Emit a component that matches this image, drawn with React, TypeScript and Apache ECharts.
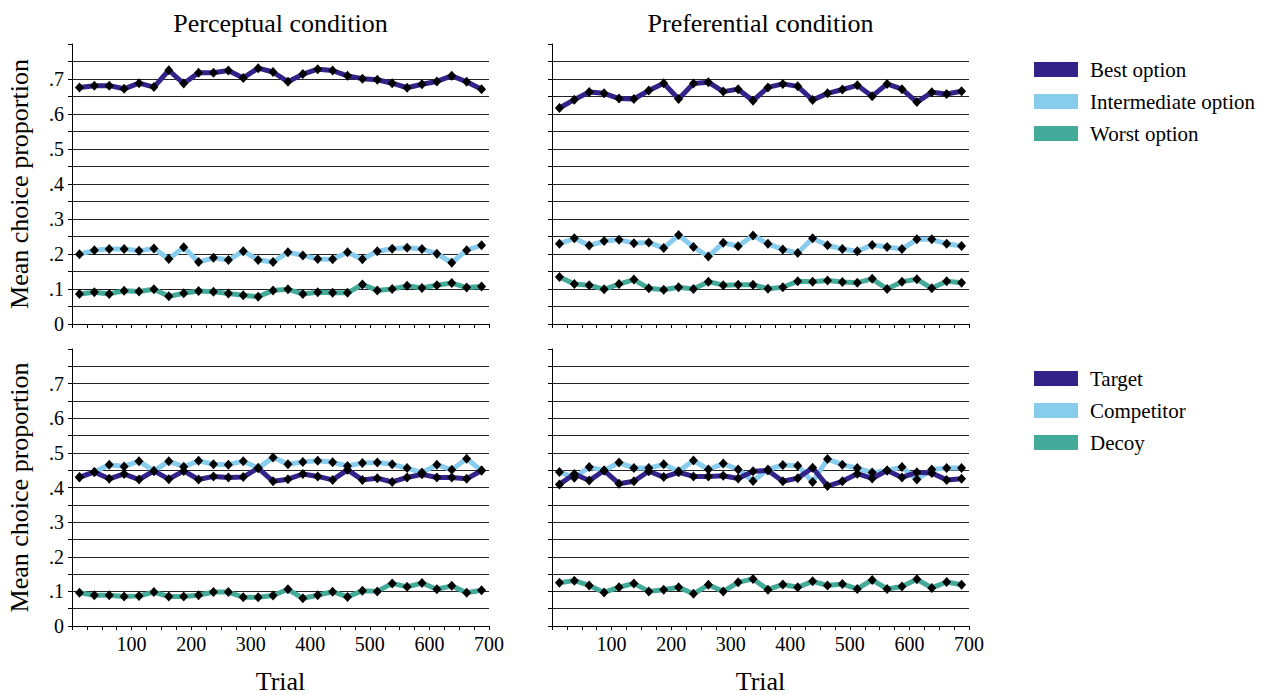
import React, { useEffect, useRef } from 'react';
import * as echarts from 'echarts';

// Trial blocks (end trial of each 25-trial block)
const trialBlocks = ['25', '50', '75', '100', '125', '150', '175', '200', '225', '250', '275', '300', '325', '350',
  '375', '400', '425', '450', '475', '500', '525', '550', '575', '600', '625', '650', '675', '700'];

const panelTitles = ['Perceptual condition', 'Preferential condition'];
const legendTop = ['Best option', 'Intermediate option', 'Worst option'];
const legendBottom = ['Target', 'Competitor', 'Decoy'];

const perceptualBest = [.676, .681, .681, .672, .688, .677, .725, .687, .718, .718, .724, .703, .731, .720, .692, .714, .728, .724, .709, .701, .698, .688, .675, .685, .693, .709, .692, .671];
const perceptualIntermediate = [.199, .211, .214, .214, .209, .216, .186, .219, .177, .189, .183, .208, .183, .177, .205, .196, .186, .185, .205, .185, .208, .215, .218, .214, .201, .175, .211, .225];
const perceptualWorst = [.086, .091, .086, .095, .093, .099, .079, .088, .094, .092, .087, .082, .078, .096, .099, .086, .091, .089, .089, .113, .096, .100, .109, .103, .111, .117, .104, .107];

const preferentialBest = [.617, .641, .663, .659, .644, .643, .667, .688, .643, .687, .691, .664, .671, .638, .676, .686, .679, .640, .659, .670, .682, .651, .686, .671, .634, .662, .657, .665];
const preferentialIntermediate = [.229, .245, .224, .237, .241, .231, .233, .217, .254, .220, .193, .232, .222, .253, .229, .213, .203, .245, .225, .214, .208, .226, .220, .214, .242, .242, .229, .223];
const preferentialWorst = [.134, .114, .111, .099, .114, .127, .102, .098, .105, .100, .121, .111, .112, .112, .101, .105, .122, .121, .124, .120, .118, .129, .100, .121, .128, .102, .122, .118];

const perceptualTarget = [.429, .445, .425, .439, .423, .448, .424, .448, .423, .432, .429, .430, .456, .418, .424, .439, .432, .422, .451, .422, .427, .416, .429, .438, .429, .429, .425, .449];
const perceptualCompetitor = [.430, .445, .466, .461, .476, .448, .476, .460, .477, .467, .466, .476, .456, .487, .467, .474, .477, .473, .462, .471, .472, .467, .456, .443, .466, .451, .483, .449];
const perceptualDecoy = [.096, .089, .089, .085, .087, .098, .085, .085, .089, .098, .098, .083, .083, .088, .106, .080, .089, .099, .084, .102, .100, .123, .113, .124, .106, .116, .096, .103];

const preferentialTarget = [.409, .439, .420, .449, .411, .418, .447, .430, .444, .432, .432, .434, .426, .447, .449, .418, .427, .457, .404, .418, .440, .426, .449, .429, .444, .442, .422, .425];
const preferentialCompetitor = [.445, .428, .459, .449, .472, .456, .456, .467, .447, .478, .452, .469, .452, .419, .452, .465, .463, .416, .482, .466, .456, .443, .449, .459, .423, .452, .456, .456];
const preferentialDecoy = [.125, .131, .117, .097, .112, .123, .100, .105, .112, .093, .119, .100, .126, .136, .105, .120, .112, .129, .117, .121, .107, .133, .107, .114, .135, .110, .127, .119];

const FONT = "'Liberation Serif', 'Times New Roman', Times, serif";
const C1 = '#332288';
const C2 = '#88CCEE';
const C3 = '#44AA99';

export default function App() {
  const ref = useRef<HTMLDivElement>(null);

  useEffect(() => {
    if (!ref.current) return;
    const chart = echarts.init(ref.current, null, { renderer: 'svg' });

    const grids = [
      { left: 72, top: 44, width: 417, height: 280 },
      { left: 552, top: 44, width: 417, height: 280 },
      { left: 72, top: 349, width: 417, height: 280 },
      { left: 552, top: 349, width: 417, height: 280 },
    ];

    const xAxis: any[] = [];
    const yAxis: any[] = [];
    grids.forEach((g, i) => {
      const bottomRow = i >= 2;
      const leftCol = i % 2 === 0;
      xAxis.push({
        type: 'category', gridIndex: i, position: 'bottom', data: trialBlocks, boundaryGap: true,
        axisLine: { show: true, lineStyle: { color: '#000', width: 1 } },
        axisTick: { show: true, interval: 0, length: 4, inside: false, lineStyle: { color: '#000', width: 1 } },
        axisLabel: { show: false }, splitLine: { show: false },
      });
      xAxis.push({
        type: 'value', gridIndex: i, position: 'bottom', min: 0, max: 700, interval: 100,
        axisLine: { show: false }, axisTick: { show: false }, splitLine: { show: false },
        axisLabel: {
          show: bottomRow, margin: 8, fontSize: 20, color: '#000', fontFamily: FONT,
          formatter: (v: number) => (v === 0 ? '' : String(v)),
        },
        name: bottomRow ? 'Trial' : '', nameLocation: 'middle', nameGap: 42,
        nameTextStyle: { fontSize: 26, color: '#000', fontFamily: FONT },
      });
      yAxis.push({
        type: 'value', gridIndex: i, min: 0, max: 0.8, interval: 0.05,
        axisLine: { show: true, lineStyle: { color: '#000', width: 1 } },
        axisTick: { show: true, length: 4, inside: false, lineStyle: { color: '#000', width: 1 } },
        splitLine: { show: true, showMinLine: false, showMaxLine: false, lineStyle: { color: '#222', width: 1 } },
        axisLabel: {
          show: leftCol, margin: 8, fontSize: 20, color: '#000', fontFamily: FONT,
          formatter: (v: number) => {
            const r = Math.round(v * 100);
            if (r === 0) return '0';
            if (r % 10 === 0 && r < 80) return '.' + r / 10;
            return '';
          },
        },
        name: leftCol ? 'Mean choice proportion' : '', nameLocation: 'middle', nameGap: 40,
        nameTextStyle: { fontSize: 26, color: '#000', fontFamily: FONT },
      });
    });

    const mk = (name: string, data: number[], color: string, gi: number) => ({
      type: 'line', name, data, xAxisIndex: gi * 2, yAxisIndex: gi,
      symbol: 'diamond', symbolSize: [9, 10], showSymbol: true, showAllSymbol: true,
      itemStyle: { color: '#000', borderWidth: 0 },
      lineStyle: { color, width: 5, join: 'round' },
      emphasis: { disabled: true },
      silent: true,
    });

    const series = [
      mk(legendTop[2], perceptualWorst, C3, 0),
      mk(legendTop[1], perceptualIntermediate, C2, 0),
      mk(legendTop[0], perceptualBest, C1, 0),
      mk(legendTop[2], preferentialWorst, C3, 1),
      mk(legendTop[1], preferentialIntermediate, C2, 1),
      mk(legendTop[0], preferentialBest, C1, 1),
      mk(legendBottom[2], perceptualDecoy, C3, 2),
      mk(legendBottom[1], perceptualCompetitor, C2, 2),
      mk(legendBottom[0], perceptualTarget, C1, 2),
      mk(legendBottom[2], preferentialDecoy, C3, 3),
      mk(legendBottom[1], preferentialCompetitor, C2, 3),
      mk(legendBottom[0], preferentialTarget, C1, 3),
    ];

    const legendBase = {
      orient: 'vertical', left: 1029, itemWidth: 44, itemHeight: 15, itemGap: 11,
      icon: 'rect', selectedMode: false,
      textStyle: { fontSize: 21, lineHeight: 21, color: '#000', fontFamily: FONT, padding: [0, 0, 0, 7] },
    };
    const colors = [C1, C2, C3];

    chart.setOption({
      animation: false,
      textStyle: { fontFamily: FONT },
      grid: grids,
      xAxis,
      yAxis,
      series,
      legend: [
        { ...legendBase, top: 54, data: legendTop.map((n, i) => ({ name: n, itemStyle: { color: colors[i], borderWidth: 0 } })) },
        { ...legendBase, top: 363, data: legendBottom.map((n, i) => ({ name: n, itemStyle: { color: colors[i], borderWidth: 0 } })) },
      ],
      graphic: [
        { type: 'text', x: 280.5, y: 23, style: { text: panelTitles[0], font: `26px ${FONT}`, fill: '#000', align: 'center', verticalAlign: 'middle' } },
        { type: 'text', x: 760.5, y: 23, style: { text: panelTitles[1], font: `26px ${FONT}`, fill: '#000', align: 'center', verticalAlign: 'middle' } },
      ],
    });

    return () => chart.dispose();
  }, []);

  return <div ref={ref} style={{ position: 'absolute', left: 0, top: 0, width: 1266, height: 695 }} />;
}
